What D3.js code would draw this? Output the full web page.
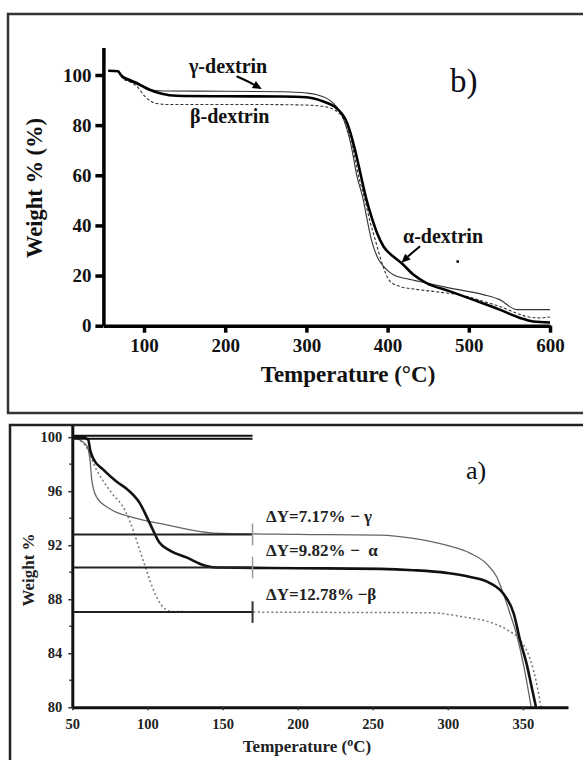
<!DOCTYPE html>
<html>
<head>
<meta charset="utf-8">
<script src="https://cdn.jsdelivr.net/npm/d3@7"></script>
<style>
  body { margin: 0; background: #fff; }
  svg { display: block; font-family: "Liberation Serif", "Times New Roman", serif; }
</style>
</head>
<body>
<svg id="chart" width="583" height="760"></svg>
<script>
// ---- panel b) : 50-600 C, [temperature, weight %]
const ticksXB = [100, 200, 300, 400, 500, 600];
const ticksYB = [0, 20, 40, 60, 80, 100];
const alphaB = [[56,101.7],[68,101.5],[72,99.8],[80,98.3],[91,96.8],[100,95.2],[107,94.1],[122,92.5],[140,91.7],[200,91.5],[270,91.4],[300,91.1],[320,89.5],[337,86.8],[350,81],[360,70],[367,60],[374,50.3],[380,43.6],[387,37],[395,31.6],[407,27.6],[417,25],[432,20.3],[448,17],[477,13.7],[505,10.4],[538,6.4],[563,3.1],[579,1.7],[600,1.3]];
const gammaB = [[56,101.7],[68,101.5],[74,98.8],[83,97.5],[100,95],[111,93.9],[125,93.6],[200,93.5],[271,93.3],[300,92.8],[313,92.1],[333,88.8],[345,83],[355,72],[362,60],[370,50.3],[374,43.6],[380,34.3],[389,26.3],[397,23],[407,20.3],[424,18.7],[448,17],[477,15],[518,12.4],[538,10.4],[559,6.4],[600,6.4]];
const betaB = [[56,101.7],[68,101.3],[74,98.5],[83,97.2],[91,95.5],[101,91.5],[108,89.6],[116,88.6],[130,88.2],[250,88.2],[300,88],[320,87.5],[335,86],[347,81.5],[357,71],[364,60],[372,50.3],[378,42],[385,34],[393,25],[403,17.7],[415,15.7],[435,14.5],[456,13.7],[497,11.7],[520,9.5],[538,7.7],[555,5.5],[571,3.7],[587,3.1],[600,3.5]];
const namesB = ['γ-dextrin', 'β-dextrin', 'α-dextrin'];

// ---- panel a) : zoom on 50-380 C, 80-100 %
const ticksXA = [50, 100, 150, 200, 250, 300, 350];
const ticksYA = [80, 84, 88, 92, 96, 100];
const minorYA = [82, 86, 90, 94, 98];
const alphaA = [[50,100],[57,100],[60.6,99.8],[62,99],[64,98.4],[70.6,97.6],[79.6,96.7],[87,96.1],[95,95.1],[101.7,93.6],[108,92.2],[115,91.6],[126,91.1],[138,90.5],[146,90.35],[200,90.3],[255,90.25],[277,90.15],[299,89.95],[315,89.65],[328,89.2],[337,88.4],[344,86.9],[348,85.0],[352.5,83.2],[355.8,81.5],[358.7,80]];
const gammaA = [[50,100],[55,99.8],[60,99.3],[61.8,98.3],[63,96.8],[66,95.6],[75,94.7],[90.8,94.05],[112.9,93.5],[144,92.9],[200,92.8],[255,92.74],[277,92.5],[299,92.0],[315,91.4],[326,90.6],[332.6,89.65],[337,88.4],[341.5,86.9],[346,85.3],[351,82.8],[355.5,80]];
const betaA = [[50,100],[58.5,99.4],[66,97.6],[76,95.9],[85,94.6],[90.6,93.1],[95,91.6],[99.5,90.1],[104,88.7],[110.6,87.4],[116,87.1],[170,87.05],[288,87.0],[310,86.7],[328,86.3],[340,85.7],[348,85.0],[355,83.5],[359.6,81.5],[362,80]];
const stepLevels = [92.8, 90.35, 87.05];
const stepLabels = ['ΔY=7.17%', 'ΔY=9.82%', 'ΔY=12.78%'];
const stepTags = ['− γ', '−  α', '−β'];

const svg = d3.select('#chart');
const font = '"Liberation Serif", "Times New Roman", serif';

// frames
svg.append('rect').attr('x', 8).attr('y', 14).attr('width', 600).attr('height', 399)
    .attr('fill', 'none').attr('stroke', '#333').attr('stroke-width', 2.5);
svg.append('rect').attr('x', 10).attr('y', 425).attr('width', 600).attr('height', 400)
    .attr('fill', 'none').attr('stroke', '#222').attr('stroke-width', 2.5);

/* ================= panel b ================= */
const xB = d3.scaleLinear().domain([50, 600]).range([103.4, 550]);
const yB = d3.scaleLinear().domain([0, 111]).range([325.7, 47.4]);
const lineB = d3.line().x(d => xB(d[0])).y(d => yB(d[1])).curve(d3.curveMonotoneX);

const gB = svg.append('g');

gB.append('path').datum(betaB).attr('d', lineB)
    .attr('fill', 'none').attr('stroke', '#333').attr('stroke-width', 1.1).attr('stroke-dasharray', '3,2');
gB.append('path').datum(gammaB).attr('d', lineB)
    .attr('fill', 'none').attr('stroke', '#333').attr('stroke-width', 1.1);
gB.append('path').datum(alphaB).attr('d', lineB)
    .attr('fill', 'none').attr('stroke', '#000').attr('stroke-width', 2.6);

const xAxisB = gB.append('g')
    .attr('transform', 'translate(0,' + yB(0) + ')')
    .call(d3.axisBottom(xB).tickValues(ticksXB).tickSize(7).tickSizeOuter(0).tickPadding(6));
const yAxisB = gB.append('g')
    .attr('transform', 'translate(' + xB(50) + ',0)')
    .call(d3.axisLeft(yB).tickValues(ticksYB).tickSize(8).tickSizeOuter(0).tickPadding(4));

[xAxisB, yAxisB].forEach(ax => {
    ax.attr('font-family', font).attr('font-size', 19).attr('font-weight', 'bold');
    ax.selectAll('path, line').attr('stroke', '#000').attr('stroke-width', 3.5);
    ax.selectAll('text').attr('fill', '#111');
});

gB.append('text').attr('x', 348).attr('y', 382).attr('text-anchor', 'middle')
    .attr('font-size', 23).attr('font-weight', 'bold').attr('fill', '#111')
    .text('Temperature (°C)');
gB.append('text').attr('transform', 'translate(42,188) rotate(-90)').attr('text-anchor', 'middle')
    .attr('font-size', 22.5).attr('font-weight', 'bold').attr('fill', '#111')
    .text('Weight % (%)');

gB.append('text').attr('x', 450).attr('y', 92).attr('font-size', 33).attr('fill', '#0d0d1a').text('b)');

// curve names + arrows
gB.append('text').attr('x', 189).attr('y', 73).attr('font-size', 20).attr('font-weight', 'bold').attr('fill', '#111').text(namesB[0]);
gB.append('text').attr('x', 190).attr('y', 123).attr('font-size', 20).attr('font-weight', 'bold').attr('fill', '#111').text(namesB[1]);
gB.append('text').attr('x', 403).attr('y', 243).attr('font-size', 20).attr('font-weight', 'bold').attr('fill', '#111').text(namesB[2]);

function arrow(g, from, ctrl, to) {
    const p0 = [xB(from[0]), yB(from[1])], p1 = [xB(ctrl[0]), yB(ctrl[1])], p2 = [xB(to[0]), yB(to[1])];
    const ang = Math.atan2(p2[1] - p1[1], p2[0] - p1[0]);
    const L = 9, W = 4;
    const base = [p2[0] - L * Math.cos(ang), p2[1] - L * Math.sin(ang)];
    g.append('path')
        .attr('d', 'M' + p0 + 'Q' + p1 + ' ' + base)
        .attr('fill', 'none').attr('stroke', '#000').attr('stroke-width', 2);
    const n = [-Math.sin(ang) * W, Math.cos(ang) * W];
    g.append('path')
        .attr('d', 'M' + p2 + 'L' + [base[0] + n[0], base[1] + n[1]] + 'L' + [base[0] - n[0], base[1] - n[1]] + 'Z')
        .attr('fill', '#000');
}
arrow(gB, [214, 99.5], [228, 97.5], [245, 94.4]);
arrow(gB, [440, 31.7], [428, 28.5], [417, 25.1]);

gB.append('rect').attr('x', xB(486) - 1).attr('y', yB(25.7) - 1).attr('width', 2.5).attr('height', 2.5).attr('fill', '#000');

/* ================= panel a ================= */
const xA = d3.scaleLinear().domain([50, 380]).range([72.3, 568]);
const yA = d3.scaleLinear().domain([80, 100.9]).range([707.3, 425]);
const lineA = d3.line().x(d => xA(d[0])).y(d => yA(d[1])).curve(d3.curveMonotoneX);

const gA = svg.append('g');

gA.append('path').datum(betaA).attr('d', lineA)
    .attr('fill', 'none').attr('stroke', '#777').attr('stroke-width', 1.5).attr('stroke-dasharray', '2,2.5');
gA.append('path').datum(gammaA).attr('d', lineA)
    .attr('fill', 'none').attr('stroke', '#666').attr('stroke-width', 1.3);
gA.append('path').datum(alphaA).attr('d', lineA)
    .attr('fill', 'none').attr('stroke', '#111').attr('stroke-width', 2.6);

// step lines at the plateau levels
gA.selectAll('.step').data(stepLevels).enter().append('line')
    .attr('x1', xA(50)).attr('x2', xA(170))
    .attr('y1', d => yA(d)).attr('y2', d => yA(d))
    .attr('stroke', '#222').attr('stroke-width', 2);
gA.selectAll('.stepTick').data(stepLevels).enter().append('line')
    .attr('x1', xA(170)).attr('x2', xA(170))
    .attr('y1', d => yA(d + 0.8)).attr('y2', d => yA(d - 0.8))
    .attr('stroke', (d, i) => i === 2 ? '#333' : '#999').attr('stroke-width', (d, i) => i === 2 ? 2 : 1.5);
// 100 % baseline (double line)
[-1.5, 1.5].forEach(off => {
    gA.append('line').attr('x1', xA(50)).attr('x2', xA(170))
        .attr('y1', yA(100) + off).attr('y2', yA(100) + off)
        .attr('stroke', '#111').attr('stroke-width', 2);
});

gA.selectAll('.stepLabel').data(stepLabels).enter().append('text')
    .attr('x', xA(179)).attr('y', (d, i) => yA(stepLevels[i]) - 12)
    .attr('font-size', 17).attr('font-weight', 'bold').attr('fill', '#222')
    .text(d => d);
gA.selectAll('.stepTag').data(stepTags).enter().append('text')
    .attr('x', (d, i) => i === 2 ? xA(240) : xA(235)).attr('y', (d, i) => yA(stepLevels[i]) - 12)
    .attr('font-size', 17).attr('font-weight', 'bold').attr('fill', '#222').attr('xml:space', 'preserve')
    .text(d => d);

const xAxisA = gA.append('g')
    .attr('transform', 'translate(0,' + yA(80) + ')')
    .call(d3.axisBottom(xA).tickValues(ticksXA).tickSize(3).tickSizeOuter(0).tickPadding(8.5));
const yAxisA = gA.append('g')
    .attr('transform', 'translate(' + xA(50) + ',0)')
    .call(d3.axisLeft(yA).tickValues(ticksYA).tickSize(4).tickSizeOuter(0).tickPadding(6));
yAxisA.selectAll('.minor').data(minorYA).enter().append('line')
    .attr('x1', -3).attr('x2', 0).attr('y1', d => yA(d)).attr('y2', d => yA(d));

[xAxisA, yAxisA].forEach(ax => {
    ax.attr('font-family', font).attr('font-size', 14.5).attr('font-weight', 'bold');
    ax.select('.domain').attr('stroke', '#111').attr('stroke-width', 3);
    ax.selectAll('line').attr('stroke', '#333').attr('stroke-width', 1.5);
    ax.selectAll('text').attr('fill', '#222');
});

const titleA = gA.append('text').attr('x', 307).attr('y', 752).attr('text-anchor', 'middle')
    .attr('font-size', 17).attr('font-weight', 'bold').attr('fill', '#222');
titleA.append('tspan').text('Temperature (');
titleA.append('tspan').attr('dy', -6).attr('font-size', 12).text('o');
titleA.append('tspan').attr('dy', 6).text('C)');
gA.append('text').attr('transform', 'translate(34,570) rotate(-90)').attr('text-anchor', 'middle')
    .attr('font-size', 17).attr('font-weight', 'bold').attr('fill', '#222')
    .text('Weight %');

gA.append('text').attr('x', 466).attr('y', 479).attr('font-size', 26).attr('fill', '#0d1020').text('a)');
</script>
</body>
</html>
